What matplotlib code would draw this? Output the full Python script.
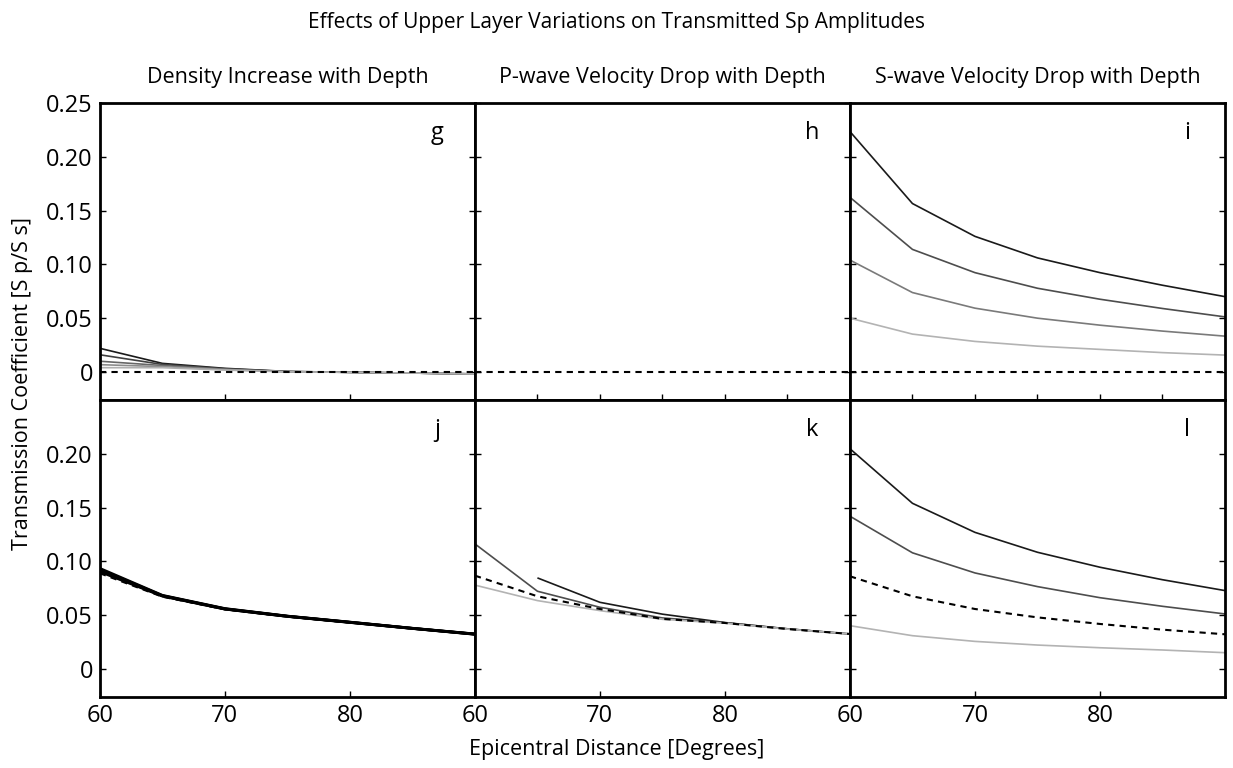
import matplotlib
matplotlib.use("Agg")
import matplotlib.pyplot as plt
import numpy as np

plt.rcParams['font.family'] = ['Open Sans', 'DejaVu Sans']

# epicentral distances (degrees)
dist = [60, 65, 70, 75, 80, 85, 90]

# panel g: density increase (top row)
g_lines = [
    [0.022, 0.008, 0.0034, 0.0005, -0.0003, -0.0010, -0.0018],
    [0.016, 0.007, 0.0030, 0.0004, -0.0003, -0.0010, -0.0018],
    [0.010, 0.006, 0.0026, 0.0003, -0.0003, -0.0010, -0.0018],
    [0.0068, 0.005, 0.0022, 0.0002, -0.0003, -0.0010, -0.0018],
    [0.004, 0.004, 0.0018, 0.0001, -0.0003, -0.0010, -0.0018],
]
g_ref = [0, 0, 0, 0, 0, 0, 0]

# panel h: P-wave velocity drop (top row)
h_ref = [0, 0, 0, 0, 0, 0, 0]

# panel i: S-wave velocity drop (top row)
i_lines = [
    [0.2234, 0.1565, 0.126, 0.106, 0.0923, 0.0806, 0.070],
    [0.1623, 0.1139, 0.0923, 0.0778, 0.0676, 0.059, 0.0512],
    [0.104, 0.0738, 0.0593, 0.050, 0.0435, 0.038, 0.0333],
    [0.050, 0.0352, 0.0284, 0.024, 0.021, 0.018, 0.0157],
]
i_ref = [0, 0, 0, 0, 0, 0, 0]

# panel j: density increase (bottom row)
j_lines = [
    [0.0935, 0.0685, 0.0562, 0.0492, 0.0436, 0.0379, 0.0326],
    [0.0925, 0.0682, 0.0560, 0.0491, 0.0435, 0.0378, 0.0325],
    [0.0915, 0.0680, 0.0558, 0.0490, 0.0434, 0.0378, 0.0324],
    [0.0905, 0.0678, 0.0557, 0.0489, 0.0433, 0.0377, 0.0323],
]
j_ref = [0.089, 0.0672, 0.0555, 0.0487, 0.0432, 0.0377, 0.0326]

# panel k: P-wave velocity drop (bottom row)
k_lines = [
    [np.nan, 0.0847, 0.062, 0.051, 0.0432, 0.0374, 0.0326],
    [0.1163, 0.0723, 0.0574, 0.0475, 0.0430, 0.0373, 0.0326],
    [0.078, 0.0636, 0.0543, 0.0462, 0.0426, 0.0371, 0.0326],
]
k_ref = [0.0868, 0.0676, 0.0558, 0.0466, 0.0428, 0.0372, 0.0326]

# panel l: S-wave velocity drop (bottom row)
l_lines = [
    [0.2047, 0.154, 0.127, 0.1085, 0.0946, 0.083, 0.0729],
    [0.142, 0.108, 0.0893, 0.0766, 0.0663, 0.0583, 0.0512],
    [0.0403, 0.031, 0.0257, 0.0223, 0.0198, 0.0177, 0.0152],
]
l_ref = [0.0862, 0.0676, 0.0558, 0.048, 0.0419, 0.0366, 0.0323]

grays_5 = ['#1a1a1a', '#404040', '#666666', '#8c8c8c', '#b0b0b0']
grays_4 = ['#1a1a1a', '#4d4d4d', '#7a7a7a', '#b3b3b3']
grays_3 = ['#1a1a1a', '#4d4d4d', '#b3b3b3']

panels = [
    ('g', g_lines, g_ref, grays_5, 1.2),
    ('h', [], h_ref, grays_4, 1.2),
    ('i', i_lines, i_ref, grays_4, 1.2),
    ('j', j_lines, j_ref, ['#000000'] * 4, 2.0),
    ('k', k_lines, k_ref, ['#1a1a1a', '#4d4d4d', '#b3b3b3'], 1.2),
    ('l', l_lines, l_ref, grays_3, 1.2),
]

col_titles = ['Density Increase with Depth', 'P-wave Velocity Drop with Depth',
              'S-wave Velocity Drop with Depth']

fig = plt.figure(figsize=(12.33, 7.68), dpi=100)
gs = fig.add_gridspec(2, 3, left=0.081, right=0.9935, top=0.866, bottom=0.0924,
                      wspace=0, hspace=0)

for idx, (letter, lines, ref, cols, lw) in enumerate(panels):
    r, c = divmod(idx, 3)
    ax = fig.add_subplot(gs[r, c])
    for vals, col in zip(lines, cols):
        ax.plot(dist, vals, color=col, lw=lw, solid_capstyle='butt')
    ax.plot(dist, ref, color='black', lw=1.5, ls=(0, (3, 2.5)))

    ax.set_xlim(60, 90)
    ax.set_ylim(-0.026, 0.25)
    for sp in ax.spines.values():
        sp.set_linewidth(2)
    ax.tick_params(direction='in', length=4, width=1, top=False, right=True,
                   labelsize=17, pad=5)

    if r == 0 and c in (1, 2):
        ax.set_xticks([65, 70, 75, 80, 85])
    elif r == 0:
        ax.set_xticks([70, 80])
    else:
        ax.set_xticks([60, 70, 80])
        ax.set_xticklabels(['60', '70', '80'])
    if r == 0:
        ax.set_xticklabels([])

    yt = [0, 0.05, 0.10, 0.15, 0.20, 0.25] if r == 0 else [0, 0.05, 0.10, 0.15, 0.20]
    ax.set_yticks(yt)
    if c == 0:
        ax.set_yticklabels(['0' if v == 0 else f'{v:.2f}' for v in yt])
    else:
        ax.set_yticklabels([])
    if r == 0:
        ax.set_title(col_titles[c], fontsize=15.5, pad=14)

    ax.text(0.9, 0.9, letter, transform=ax.transAxes, fontsize=17,
            ha='center', va='center')

fig.suptitle('Effects of Upper Layer Variations on Transmitted Sp Amplitudes',
             fontsize=15, y=0.985)
fig.supylabel('Transmission Coefficient [S p/S s]', fontsize=15.5, x=0.01)
fig.supxlabel('Epicentral Distance [Degrees]', fontsize=15.5, y=0.01)

fig.savefig('out.png', dpi=100)
